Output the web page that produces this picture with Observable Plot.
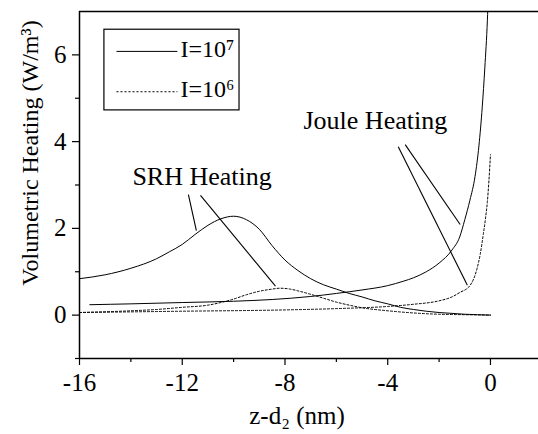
<!DOCTYPE html>
<html><head><meta charset="utf-8">
<script src="https://cdn.jsdelivr.net/npm/d3@7"></script>
<script src="https://cdn.jsdelivr.net/npm/@observablehq/plot@0.6"></script>
<style>
body{margin:0;background:#fff}
svg, svg text {font-family: "Liberation Serif", "Times New Roman", serif !important;}
</style>
</head><body><div id="chart"></div>
<script>
// Joule heating, I=1e7 (solid)
const xJoule7 = [-15.6,-14,-12,-10,-8.5,-7,-6,-5,-4,-3.4,-3,-2.5,-2,-1.5,-1.2,-1,-0.8,-0.6,-0.45,-0.32,-0.22,-0.12,-0.05];
const yJoule7 = [0.24,0.26,0.29,0.32,0.36,0.43,0.5,0.58,0.68,0.78,0.86,1.0,1.2,1.5,1.8,2.2,2.65,3.2,3.9,4.8,5.7,6.8,8.0];
// SRH heating, I=1e7 (solid)
const xSRH7 = [-16,-15,-14,-13,-12.5,-12,-11.5,-11,-10.5,-10,-9.5,-9,-8.5,-8,-7.5,-7,-6.5,-6,-5.5,-5,-4.5,-4,-3.5,-3,-2.5,-2,-1.5,-1,-0.5,0];
const ySRH7 = [0.84,0.93,1.08,1.3,1.46,1.63,1.86,2.07,2.22,2.28,2.2,1.98,1.6,1.27,1.03,0.84,0.7,0.6,0.5,0.42,0.33,0.26,0.18,0.13,0.09,0.06,0.04,0.02,0.01,0.0];
// Joule heating, I=1e6 (dashed)
const xJoule6 = [-16,-12,-8,-6,-4,-3,-2,-1.5,-1.2,-0.8,-0.52,-0.4,-0.28,-0.2,-0.12,-0.06,0];
const yJoule6 = [0.06,0.09,0.12,0.15,0.2,0.25,0.33,0.42,0.52,0.68,1.08,1.4,1.86,2.2,2.62,3.1,3.7];
// SRH heating, I=1e6 (dashed)
const xSRH6 = [-16,-14,-13,-12,-11,-10.5,-10,-9.5,-9,-8.5,-8.2,-7.8,-7.5,-7,-6.5,-6,-5.5,-5,-4,-3,-2,-1,0];
const ySRH6 = [0.06,0.1,0.13,0.18,0.23,0.29,0.37,0.47,0.55,0.6,0.62,0.6,0.56,0.48,0.39,0.3,0.23,0.17,0.1,0.05,0.02,0.01,0.0];

const xTicks = [-16,-12,-8,-4,0];
const xMinorTicks = [-14,-10,-6,-2];
const yTicks = [0,2,4,6];
const yMinorTicks = [-1,1,3,5];
const seriesLabels = ["I=10\u2077","I=10\u2076"];
const xTitle = "z-d\u2082 (nm)";
const yTitle = "Volumetric Heating (W/m\u00B3)";
const annotationLabels = ["SRH Heating","Joule Heating"];

const rows = (xs, ys) => xs.map((x, i) => ({x, y: ys[i]}));

// annotation placement (data coordinates)
const annotationText = [
  {x: -13.94, y: 3.01, label: annotationLabels[0]},
  {x: -7.28, y: 4.28, label: annotationLabels[1]}
];
const leaders = [
  {x1: -11.76, y1: 2.78, x2: -11.45, y2: 1.95},
  {x1: -11.29, y1: 2.76, x2: -8.37, y2: 0.67},
  {x1: -3.59, y1: 3.88, x2: -0.90, y2: 0.69},
  {x1: -3.32, y1: 3.93, x2: -1.18, y2: 2.09}
];
const legendBox = [{x1: -15.03, x2: -9.77, y1: 4.72, y2: 6.58}];
const legendLines = [
  {x1: -14.56, x2: -12.19, y: 6.08, tx: -12.07, ty: 5.94, label: seriesLabels[0]},
  {x1: -14.56, x2: -12.19, y: 5.15, tx: -12.07, ty: 5.02, label: seriesLabels[1]}
];

const font = "Liberation Serif, Times New Roman, serif";
const fmt = d => String(d);

const chart = Plot.plot({
  width: 538, height: 434,
  marginLeft: 79, marginRight: 0, marginTop: 11, marginBottom: 76,
  x: {domain: [-16, 1.87]},
  y: {domain: [-1, 7]},
  style: {fontFamily: font, fontSize: "24px", color: "black", background: "white"},
  marks: [
    Plot.line(rows(xSRH7, ySRH7), {x: "x", y: "y", stroke: "black", strokeWidth: 1, curve: "monotone-x", clip: true}),
    Plot.line(rows(xJoule7, yJoule7), {x: "x", y: "y", stroke: "black", strokeWidth: 1, curve: "monotone-x", clip: true}),
    Plot.line(rows(xSRH6, ySRH6), {x: "x", y: "y", stroke: "black", strokeWidth: 1, strokeDasharray: "2,2", curve: "monotone-x", clip: true}),
    Plot.line(rows(xJoule6, yJoule6), {x: "x", y: "y", stroke: "black", strokeWidth: 1, strokeDasharray: "2,2", curve: "monotone-x", clip: true}),
    Plot.link(leaders, {x1: "x1", y1: "y1", x2: "x2", y2: "y2", stroke: "black", strokeWidth: 1.1}),
    Plot.text(annotationText, {x: "x", y: "y", text: "label", textAnchor: "start", lineAnchor: "bottom", fontSize: 26, fill: "black"}),
    Plot.rect(legendBox, {x1: "x1", x2: "x2", y1: "y1", y2: "y2", fill: "white", stroke: "black", strokeWidth: 1.2}),
    Plot.link([legendLines[0]], {x1: "x1", x2: "x2", y1: "y", y2: "y", stroke: "black", strokeWidth: 1}),
    Plot.link([legendLines[1]], {x1: "x1", x2: "x2", y1: "y", y2: "y", stroke: "black", strokeWidth: 1, strokeDasharray: "2,2"}),
    Plot.text(legendLines, {x: "tx", y: "ty", text: "label", textAnchor: "start", lineAnchor: "bottom", fontSize: 24, fill: "black"}),
    // frame lines
    Plot.ruleY([-1], {stroke: "black", strokeWidth: 1.5}),
    Plot.ruleY([7], {stroke: "black", strokeWidth: 1.5}),
    Plot.ruleX([-16], {stroke: "black", strokeWidth: 1.5}),
    // axes
    Plot.axisX(xTicks, {tickSize: 7, tickPadding: 8, fontSize: 25, tickFormat: fmt, label: null, strokeWidth: 1.2}),
    Plot.axisX(xMinorTicks, {tickSize: 4, tickFormat: () => "", label: null, strokeWidth: 1.2}),
    Plot.axisY(yTicks, {tickSize: 7, tickPadding: 6, fontSize: 25, tickFormat: fmt, label: null, strokeWidth: 1.2}),
    Plot.axisY(yMinorTicks, {tickSize: 4, tickFormat: () => "", label: null, strokeWidth: 1.2}),
    // axis titles
    Plot.text([xTitle], {frameAnchor: "bottom", text: d => d, textAnchor: "middle", dx: -12, dy: 65, lineAnchor: "bottom", fontSize: 25, fill: "black"}),
    Plot.text([yTitle], {frameAnchor: "left", text: d => d, textAnchor: "middle", rotate: -90, dx: -49, dy: -32, fontSize: 24, fill: "black"})
  ]
});
document.getElementById("chart").append(chart);
</script>
</body></html>
